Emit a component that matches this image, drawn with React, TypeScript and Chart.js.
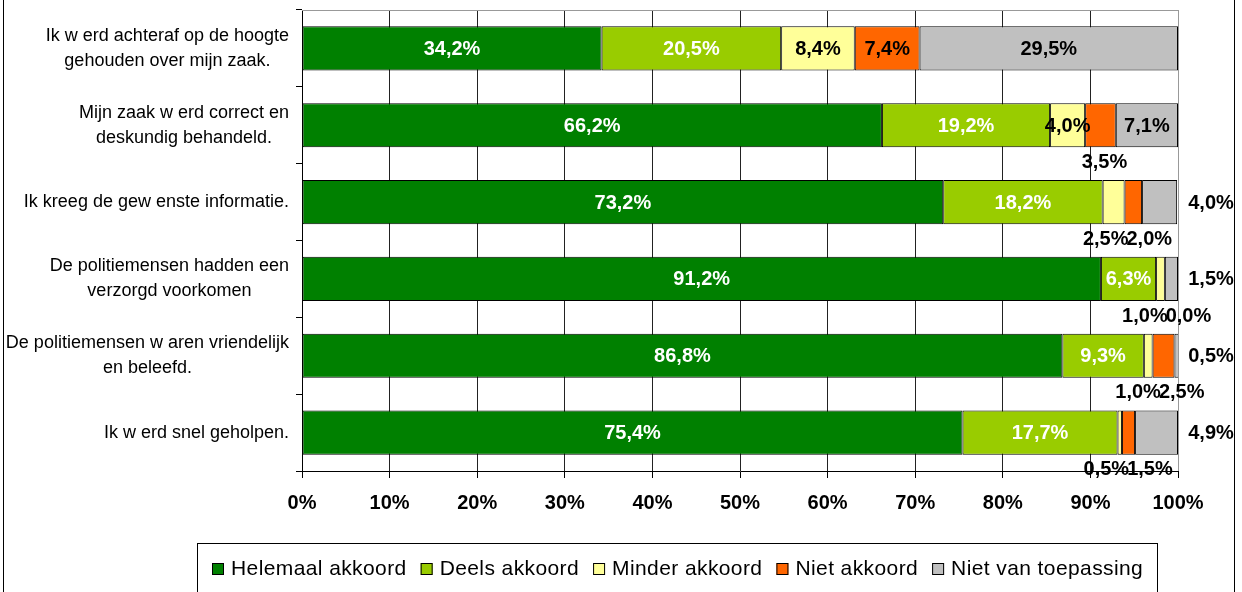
import React, { useEffect, useRef } from 'react';
import { Chart, registerables } from 'chart.js';

Chart.register(...registerables);

const categories: string[][] = [
  ['Ik w erd achteraf op de hoogte', 'gehouden over mijn zaak.'],
  ['Mijn zaak w erd correct en', 'deskundig behandeld.'],
  ['Ik kreeg de gew enste informatie.'],
  ['De politiemensen hadden een', 'verzorgd voorkomen'],
  ['De politiemensen w aren vriendelijk', 'en beleefd.'],
  ['Ik w erd snel geholpen.'],
];

const seriesNames = ['Helemaal akkoord', 'Deels akkoord', 'Minder akkoord', 'Niet akkoord', 'Niet van toepassing'];
const helemaalAkkoord = [34.2, 66.2, 73.2, 91.2, 86.8, 75.4];
const deelsAkkoord = [20.5, 19.2, 18.2, 6.3, 9.3, 17.7];
const minderAkkoord = [8.4, 4.0, 2.5, 1.0, 1.0, 0.5];
const nietAkkoord = [7.4, 3.5, 2.0, 0.0, 2.5, 1.5];
const nietVanToepassing = [29.5, 7.1, 4.0, 1.5, 0.5, 4.9];
const xTickValues = [0, 10, 20, 30, 40, 50, 60, 70, 80, 90, 100];

const seriesColors = ['#008000', '#99CC00', '#FFFF99', '#FF6600', '#C0C0C0'];
const labelColors = ['#FFFFFF', '#FFFFFF', '#000000', '#000000', '#000000'];

const FONT = '"Liberation Sans", Arial, sans-serif';
const fmt = (v: number) => v.toFixed(1).replace('.', ',') + '%';

const decoPlugin = {
  id: 'deco',
  beforeDatasetsDraw(chart: any) {
    const { ctx, chartArea: a } = chart;
    ctx.save();
    ctx.strokeStyle = '#999999';
    ctx.lineWidth = 1;
    ctx.beginPath();
    ctx.moveTo(a.left, a.top + 0.5);
    ctx.lineTo(a.right + 0.5, a.top + 0.5);
    ctx.stroke();
    ctx.restore();
  },
  afterDatasetsDraw(chart: any) {
    const { ctx, chartArea: a } = chart;
    const n = chart.data.labels.length;
    const nd = chart.data.datasets.length;
    ctx.save();
    ctx.font = 'bold 20px ' + FONT;
    ctx.textBaseline = 'middle';
    ctx.textAlign = 'center';
    for (let j = 0; j < n; j++) {
      const below: any[] = [];
      for (let i = 0; i < nd; i++) {
        const bar = chart.getDatasetMeta(i).data[j];
        const v = chart.data.datasets[i].data[j] as number;
        const txt = fmt(v);
        const p = bar.getProps(['x', 'y', 'base', 'height'], true);
        const cx = (p.x + p.base) / 2;
        if (i === nd - 1 && v < 5) {
          ctx.fillStyle = '#000';
          ctx.fillText(txt, a.right + 33, p.y + 1);
        } else if (v < 4) {
          below.push({ txt, cx, w: ctx.measureText(txt).width, bottom: p.y + p.height / 2 });
        } else {
          ctx.fillStyle = labelColors[i];
          ctx.fillText(txt, cx, p.y + 1);
        }
      }
      if (below.length) {
        const gap = -2;
        const total = below.reduce((s, b) => s + b.w, 0) + gap * (below.length - 1);
        const mean = below.reduce((s, b) => s + b.cx, 0) / below.length + 4;
        let xx = mean - total / 2;
        ctx.fillStyle = '#000';
        for (const b of below) {
          ctx.fillText(b.txt, xx + b.w / 2, b.bottom + 15);
          xx += b.w + gap;
        }
      }
    }
    ctx.restore();
  },
  afterDraw(chart: any) {
    const { ctx, chartArea: a } = chart;
    const yScale = chart.scales.y;
    ctx.save();
    // category labels
    ctx.font = '18px ' + FONT;
    ctx.fillStyle = '#000';
    ctx.textBaseline = 'middle';
    ctx.textAlign = 'center';
    const labels = chart.data.labels as string[][];
    labels.forEach((lines, j) => {
      const y = yScale.getPixelForValue(j);
      const maxW = Math.max(...lines.map((l) => ctx.measureText(l).width));
      const cx = a.left - 13 - maxW / 2;
      const lh = 25;
      const y0 = y - ((lines.length - 1) * lh) / 2;
      lines.forEach((l, k) => ctx.fillText(l, cx, y0 + k * lh));
    });

    // legend
    ctx.font = '21px ' + FONT;
    (ctx as any).letterSpacing = '0.4px';
    ctx.textAlign = 'left';
    const boxL = 197.5, boxR = 1157.5, boxT = 543.5;
    ctx.strokeStyle = '#000';
    ctx.lineWidth = 1;
    ctx.strokeRect(boxL, boxT, boxR - boxL, 80);
    const ds = chart.data.datasets;
    const widths = ds.map((d: any) => ctx.measureText(d.label).width);
    const sq = 12, g1 = 7, g2 = 14;
    const total = widths.reduce((s: number, w: number) => s + sq + g1 + w, 0) + g2 * (ds.length - 1);
    let x = Math.round((boxL + boxR) / 2 - total / 2);
    const ly = 569;
    ds.forEach((d: any, i: number) => {
      ctx.fillStyle = d.backgroundColor;
      ctx.fillRect(x, ly - 6, sq, sq);
      ctx.strokeStyle = '#000';
      ctx.strokeRect(x + 0.5, ly - 5.5, sq - 1, sq - 1);
      ctx.fillStyle = '#000';
      ctx.fillText(d.label, x + sq + g1, ly);
      x += sq + g1 + widths[i] + g2;
    });
    (ctx as any).letterSpacing = '0px';

    // outer border
    ctx.strokeStyle = '#000';
    ctx.strokeRect(3.5, -2, 1231, 600);
    ctx.restore();
  },
};

export default function App() {
  const ref = useRef<HTMLCanvasElement | null>(null);
  useEffect(() => {
    document.body.style.margin = '0';
    const canvas = ref.current!;
    const series = [helemaalAkkoord, deelsAkkoord, minderAkkoord, nietAkkoord, nietVanToepassing];
    const chart = new Chart(canvas, {
      type: 'bar',
      data: {
        labels: categories as any,
        datasets: series.map((data, i) => ({
          label: seriesNames[i],
          data,
          backgroundColor: seriesColors[i],
          borderColor: '#000000',
          borderWidth: 1,
          borderSkipped: false,
          barPercentage: 0.575,
          categoryPercentage: 1,
        })),
      },
      options: {
        indexAxis: 'y',
        animation: false,
        responsive: false,
        devicePixelRatio: 1,
        layout: { padding: { top: 10, right: 64, left: 0, bottom: 0 } },
        plugins: { legend: { display: false }, tooltip: { enabled: false } },
        scales: {
          x: {
            stacked: true,
            min: 0,
            max: 100,
            afterBuildTicks: (s: any) => {
              s.ticks = xTickValues.map((v) => ({ value: v }));
            },
            afterFit: (s: any) => {
              s.height = 121;
            },
            ticks: {
              callback: (v: any) => v + '%',
              color: '#000',
              font: { family: FONT, size: 20, weight: 'bold' },
              padding: 13,
              maxRotation: 0,
              autoSkip: false,
            },
            grid: {
              color: (c: any) => (c.tick && c.tick.value === 100 ? '#999999' : '#222222'),
              lineWidth: 1,
              drawTicks: true,
              tickLength: 7,
              tickColor: '#000',
            },
            border: { display: true, color: '#000', width: 1 },
          },
          y: {
            stacked: true,
            afterFit: (s: any) => {
              s.width = 302;
            },
            ticks: { display: false },
            grid: { offset: true, drawOnChartArea: false, drawTicks: true, tickLength: 6, color: '#000' },
            border: { display: true, color: '#000', width: 1 },
          },
        },
      },
      plugins: [decoPlugin],
    } as any);
    return () => chart.destroy();
  }, []);
  return <canvas ref={ref} width={1242} height={592} style={{ display: 'block' }} />;
}
